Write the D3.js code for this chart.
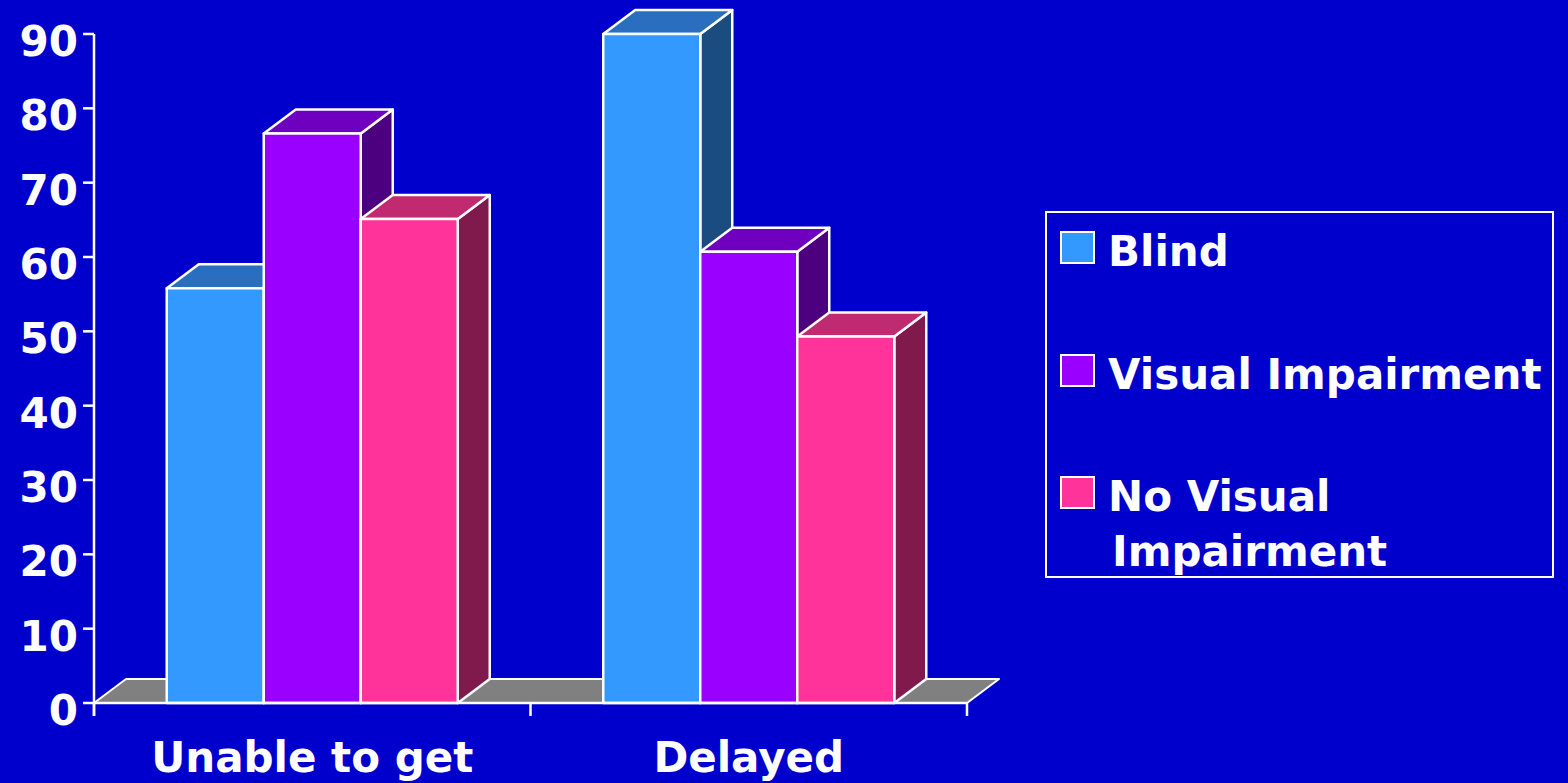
<!DOCTYPE html>
<html>
<head>
<meta charset="utf-8">
<script src="https://cdn.jsdelivr.net/npm/d3@7"></script>
<style>
  html, body { margin: 0; padding: 0; background: #0000cc; }
  svg { display: block; }
  text { font-family: "DejaVu Sans", Verdana, sans-serif; font-weight: bold; fill: #ffffff; }
</style>
</head>
<body>
<svg id="chart" width="1568" height="783"></svg>
<script>
// Categories, series and values
const categories = ["Unable to get", "Delayed"];
const seriesNames = ["Blind", "Visual Impairment", "No Visual Impairment"];
const blind = [55.8, 90];
const visualImpairment = [76.6, 60.7];
const noVisualImpairment = [65.1, 49.3];
const yTicks = [0, 10, 20, 30, 40, 50, 60, 70, 80, 90];

// Face colours per series: front, top, side
const frontColors = ["#3399ff", "#9900ff", "#ff3399"];
const topColors = ["#2a6fbf", "#7000bf", "#bf2a70"];
const sideColors = ["#1a4c80", "#4c0080", "#801a4c"];

const seriesValues = [blind, visualImpairment, noVisualImpairment];

const svg = d3.select("#chart");
const W = 1568, H = 783;
svg.append("rect").attr("width", W).attr("height", H).attr("fill", "#0000cc");

const plotLeft = 94, plotRight = 967, plotTop = 34, plotBottom = 703;
const depthX = 32, depthY = -24;

const y = d3.scaleLinear().domain([0, 90]).range([plotBottom, plotTop]);
const x0 = d3.scaleBand().domain(categories).range([plotLeft, plotRight]).paddingInner(0).paddingOuter(0);
const x1 = d3.scaleBand().domain(seriesNames).range([0, x0.bandwidth()]).paddingInner(0).paddingOuter(0.75);

const g = svg.append("g");

// Floor
g.append("polygon")
  .attr("points", [
    [plotLeft, y(0)], [plotLeft + depthX, y(0) + depthY],
    [plotRight + depthX, y(0) + depthY], [plotRight, y(0)]
  ].map(p => p.join(",")).join(" "))
  .attr("fill", "#808080")
  .attr("stroke", "#ffffff")
  .attr("stroke-width", 2)
  .attr("stroke-linejoin", "round");

// Bars, drawn left to right so each bar hides its neighbour's side face
categories.forEach((cat, ci) => {
  seriesNames.forEach((s, si) => {
    const v = seriesValues[si][ci];
    const xa = x0(cat) + x1(s);
    const xb = xa + x1.bandwidth();
    const yt = y(v), yb = y(0);
    const bar = g.append("g");
    bar.append("polygon")
      .attr("points", [[xb, yt], [xb + depthX, yt + depthY], [xb + depthX, yb + depthY], [xb, yb]]
        .map(p => p.join(",")).join(" "))
      .attr("fill", sideColors[si]);
    bar.append("polygon")
      .attr("points", [[xa, yt], [xa + depthX, yt + depthY], [xb + depthX, yt + depthY], [xb, yt]]
        .map(p => p.join(",")).join(" "))
      .attr("fill", topColors[si]);
    bar.append("rect")
      .attr("x", xa).attr("y", yt)
      .attr("width", xb - xa).attr("height", yb - yt)
      .attr("fill", frontColors[si]);
    bar.selectAll("polygon, rect")
      .attr("stroke", "#ffffff")
      .attr("stroke-width", 2.5)
      .attr("stroke-linejoin", "round");
  });
});

// Y axis
const yAxis = g.append("g");
yAxis.append("line")
  .attr("x1", plotLeft).attr("x2", plotLeft)
  .attr("y1", y(90)).attr("y2", plotBottom + 13)
  .attr("stroke", "#ffffff").attr("stroke-width", 2.5);
yAxis.selectAll("line.tick").data(yTicks).join("line")
  .attr("class", "tick")
  .attr("x1", plotLeft - 11).attr("x2", plotLeft)
  .attr("y1", d => y(d)).attr("y2", d => y(d))
  .attr("stroke", "#ffffff").attr("stroke-width", 2.5);
yAxis.selectAll("text").data(yTicks).join("text")
  .attr("x", 78)
  .attr("y", d => y(d) + 22)
  .attr("text-anchor", "end")
  .attr("font-size", 42)
  .text(d => d);

// X axis
const xAxis = g.append("g");
xAxis.append("line")
  .attr("x1", plotLeft).attr("x2", plotRight)
  .attr("y1", plotBottom).attr("y2", plotBottom)
  .attr("stroke", "#ffffff").attr("stroke-width", 2.5);
const xTickPos = [plotLeft].concat(categories.map(c => x0(c) + x0.bandwidth()));
xAxis.selectAll("line.tick").data(xTickPos).join("line")
  .attr("class", "tick")
  .attr("x1", d => d).attr("x2", d => d)
  .attr("y1", plotBottom).attr("y2", plotBottom + 13)
  .attr("stroke", "#ffffff").attr("stroke-width", 2.5);
xAxis.selectAll("text").data(categories).join("text")
  .attr("x", d => x0(d) + x0.bandwidth() / 2)
  .attr("y", 772)
  .attr("text-anchor", "middle")
  .attr("font-size", 42)
  .text(d => d);

// Legend
const legend = svg.append("g");
legend.append("rect")
  .attr("x", 1046).attr("y", 212)
  .attr("width", 507).attr("height", 365)
  .attr("fill", "none")
  .attr("stroke", "#ffffff").attr("stroke-width", 2);
const legendRows = [
  { lines: ["Blind"], y: 232 },
  { lines: ["Visual Impairment"], y: 355 },
  { lines: ["No Visual", "Impairment"], y: 477 }
];
legendRows.forEach((row, i) => {
  legend.append("rect")
    .attr("x", 1061).attr("y", row.y)
    .attr("width", 33).attr("height", 31)
    .attr("fill", frontColors[i])
    .attr("stroke", "#ffffff").attr("stroke-width", 2);
  row.lines.forEach((ln, li) => {
    legend.append("text")
      .attr("x", li === 0 ? 1108 : 1112)
      .attr("y", row.y + 34 + li * 55)
      .attr("font-size", 42)
      .text(ln);
  });
});
</script>
</body>
</html>
